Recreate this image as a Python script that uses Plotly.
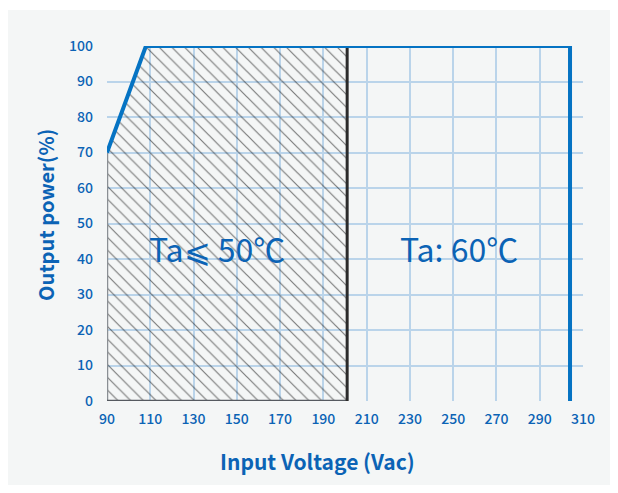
import plotly.graph_objects as go

# Data
x_ticks = [90, 110, 130, 150, 170, 190, 210, 230, 250, 270, 290, 310]
y_ticks = [0, 10, 20, 30, 40, 50, 60, 70, 80, 90, 100]

derating_x = [90, 108, 304, 304]      # Ta: 60°C curve (Vac)
derating_y = [70, 100, 100, 0]        # output power %

hatch_x = [90, 90, 108, 201, 201]     # Ta <= 50°C region
hatch_y = [0, 70, 100, 100, 0]

label_50 = "Ta⩽ 50℃"
label_60 = "Ta: 60℃"

# the page body has an 8px margin, so the figure sits at (8, 8)
OFF = 8
W, H = 602, 477
L, T = 107 - OFF, 46 - OFF
pw, ph = 476, 355
R = W - L - pw
B = H - T - ph

BLUE_TXT = "#0b63b5"
BLUE_LINE = "#0573c3"
GRID = "#bad4ea"
BG = "#f4f6f6"
FONT = "Noto Sans CJK SC"

fig = go.Figure()

fig.add_trace(go.Scatter(
    x=hatch_x, y=hatch_y, mode="lines", fill="toself",
    line=dict(width=0, color="rgba(0,0,0,0)"),
    fillcolor="rgba(0,0,0,0)",
    fillpattern=dict(shape="\\", size=9, solidity=0.13,
                     fgcolor="#000000", bgcolor="rgba(0,0,0,0)"),
    hoverinfo="skip", showlegend=False))

# left (gray), bottom (gray) and right (black) borders of hatched area
fig.add_trace(go.Scatter(x=[hatch_x[0], hatch_x[1]], y=[hatch_y[0], hatch_y[1]],
                         mode="lines", line=dict(color="#8a8f94", width=2.5),
                         showlegend=False, hoverinfo="skip"))
fig.add_trace(go.Scatter(x=[hatch_x[0], hatch_x[4]], y=[hatch_y[0], hatch_y[4]],
                         mode="lines", line=dict(color="#555a60", width=2.5),
                         showlegend=False, hoverinfo="skip"))
fig.add_trace(go.Scatter(x=[hatch_x[3], hatch_x[4]], y=[hatch_y[3], hatch_y[4]],
                         mode="lines", line=dict(color="#2b2b2b", width=3),
                         showlegend=False, hoverinfo="skip"))

fig.add_trace(go.Scatter(x=derating_x, y=derating_y, mode="lines",
                         line=dict(color=BLUE_LINE, width=4),
                         showlegend=False, hoverinfo="skip"))

# page pixel -> paper coords
def px2x(p):
    return (p - OFF - L) / pw

def py2y(p):
    return (T + ph - (p - OFF)) / ph

shapes = [
    dict(type="rect", xref="paper", yref="paper", x0=px2x(0), x1=px2x(700),
         y0=py2y(10), y1=py2y(0), fillcolor="white", line=dict(width=0), layer="below"),
]

annotations = [
    dict(x=90 + (217 - 107) / pw * 220, y=43, xref="x", yref="y", text=label_50,
         xanchor="center", yanchor="middle",
         showarrow=False, font=dict(family=FONT, size=32, color=BLUE_TXT)),
    dict(x=90 + (459 - 107) / pw * 220, y=43, xref="x", yref="y", text=label_60,
         xanchor="center", yanchor="middle",
         showarrow=False, font=dict(family=FONT, size=32, color=BLUE_TXT)),
    dict(x=px2x(317), y=py2y(461), xref="paper", yref="paper",
         text="Input Voltage (Vac)", showarrow=False,
         xanchor="center", yanchor="middle",
         font=dict(family=FONT, size=21, color=BLUE_TXT, weight=600)),
    dict(x=px2x(45), y=py2y(215), xref="paper", yref="paper",
         text="Output power(%)", showarrow=False, textangle=-90,
         xanchor="center", yanchor="middle",
         font=dict(family=FONT, size=20, color=BLUE_TXT, weight=600)),
]

fig.update_layout(
    width=W, height=H,
    margin=dict(l=L, r=R, t=T, b=B, pad=0),
    paper_bgcolor=BG, plot_bgcolor=BG,
    shapes=shapes, annotations=annotations,
    xaxis=dict(range=[90, 310], tickvals=x_ticks, ticktext=[str(v) for v in x_ticks],
               showgrid=True, gridcolor=GRID, gridwidth=1.5, zeroline=False,
               showline=False, ticks="", ticklabelstandoff=8,
               tickfont=dict(family=FONT, size=14, color=BLUE_TXT, weight=500)),
    yaxis=dict(range=[0, 100], tickvals=y_ticks, ticktext=[str(v) for v in y_ticks],
               showgrid=True, gridcolor=GRID, gridwidth=1.5, zeroline=False,
               showline=False, ticks="", ticklabelstandoff=13,
               tickfont=dict(family=FONT, size=14, color=BLUE_TXT, weight=500)),
)

fig.write_html("out.html")
